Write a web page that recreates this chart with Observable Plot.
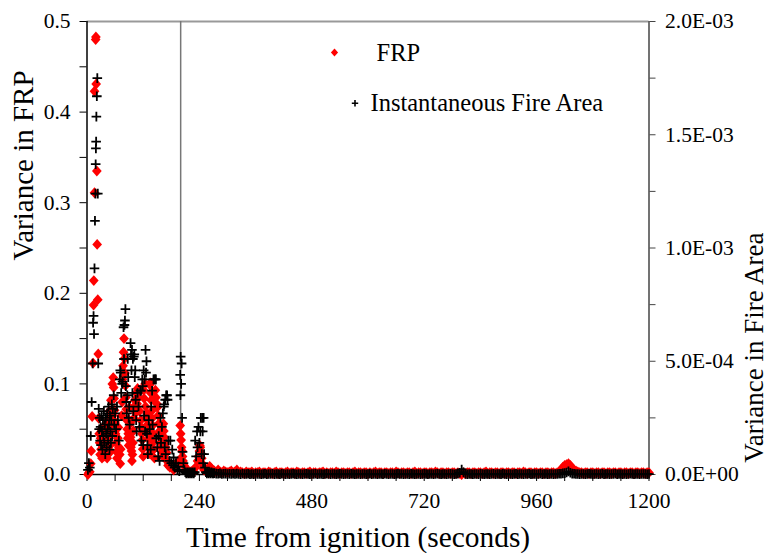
<!DOCTYPE html>
<html><head><meta charset="utf-8">
<script src="https://cdn.jsdelivr.net/npm/d3@7"></script>
<script src="https://cdn.jsdelivr.net/npm/@observablehq/plot@0.6"></script>
<style>body{margin:0;background:#fff}#chart{width:769px;height:553px;overflow:hidden}
#chart svg text{font-family:'Liberation Serif','Times New Roman',serif}</style>
</head><body><div id="chart"></div>
<script>
// FRP variance during the burst: [time (s), variance]
const frpBurst = [[2,0.000],[4,0.002],[6,0.003],[8,0.012],[9,0.026],[11,0.064],[13,0.123],[14,0.187],[14.5,0.214],[16,0.311],[16,0.423],[18.5,0.480],[19,0.483],[19.6,0.431],[21,0.335],[21.7,0.254],[23,0.193],[24,0.133],[25,0.062],[26,0.045],[27,0.035],[28,0.022],[29,0.040],[30,0.028],[31,0.050],[32,0.018],[33,0.033],[34,0.025],[35,0.045],[36,0.020],[37,0.038],[38,0.030],[39,0.055],[40,0.022],[41,0.042],[42,0.035],[43,0.018],[44,0.060],[45,0.028],[46,0.048],[47,0.040],[48,0.070],[49,0.032],[50,0.025],[51,0.082],[52,0.055],[53,0.045],[54,0.100],[55,0.065],[56,0.107],[57,0.096],[58,0.084],[59,0.071],[60,0.058],[61,0.045],[62,0.035],[63,0.025],[64,0.018],[66,0.040],[67,0.052],[68,0.030],[70,0.022],[71,0.012],[72,0.028],[74,0.065],[75,0.080],[76,0.105],[77,0.120],[78,0.135],[79,0.150],[80,0.128],[81,0.112],[82,0.098],[83,0.085],[84,0.072],[85,0.060],[86,0.050],[87,0.040],[88,0.045],[89,0.032],[90,0.060],[91,0.074],[92,0.056],[93,0.041],[94,0.030],[95,0.026],[96,0.015],[97,0.022],[98,0.035],[99,0.048],[100,0.062],[101,0.075],[102,0.082],[104,0.068],[105,0.090],[107,0.078],[108,0.095],[110,0.085],[112,0.070],[114,0.093],[115,0.060],[116,0.052],[117,0.045],[118,0.038],[119,0.028],[120,0.020],[121,0.093],[122,0.084],[124,0.100],[125,0.075],[126,0.062],[128,0.067],[129,0.055],[130,0.048],[131,0.040],[132,0.030],[133,0.023],[134,0.099],[135,0.101],[136,0.090],[137,0.082],[138,0.070],[139,0.062],[140,0.054],[141,0.045],[142,0.036],[143,0.028],[144,0.018],[146,0.093],[147,0.085],[149,0.078],[150,0.074],[152,0.065],[153,0.056],[155,0.048],[156,0.041],[158,0.035],[159,0.030],[160,0.025],[162,0.020],[163,0.056],[164,0.048],[165,0.041],[166,0.036],[168,0.030],[170,0.024],[171,0.015],[173,0.010],[175,0.012],[177,0.008],[180,0.010],[185,0.005],[190,0.012],[195,0.015],[199,0.054],[200,0.045],[201,0.038],[202,0.030],[203,0.026],[204,0.020],[205,0.015],[207,0.010],[210,0.008],[212,0.005],[215,0.003],[218,0.002],[221,0.003],[225,0.004],[228,0.003],[232,0.008],[236,0.015],[238,0.020],[240,0.026],[241,0.032],[242,0.030],[244,0.023],[245,0.018],[246,0.012],[248,0.007],[250,0.005],[253,0.004],[255,0.004],[258,0.006],[262,0.009],[265,0.007],[268,0.004]];

// Instantaneous fire area variance during the burst: [time (s), variance]
const areaBurst = [[2,0.00002],[4,0.00005],[6,0.00003],[8,0.00017],[10,0.00032],[12,0.00049],[13,0.00067],[14,0.00070],[15,0.00062],[16,0.00091],[17,0.00112],[18,0.00124],[18.5,0.00137],[19,0.00144],[19.5,0.00147],[20,0.00158],[21,0.00167],[22,0.00175],[23,0.00124],[24,0.00049],[25,0.00029],[26,0.00020],[27,0.00025],[28,0.00015],[29,0.00021],[30,0.00013],[31,0.00026],[32,0.00019],[33,0.00011],[34,0.00024],[35,0.00017],[36,0.00028],[37,0.00014],[38,0.00022],[39,0.00009],[40,0.00025],[41,0.00018],[42,0.00012],[43,0.00027],[44,0.00020],[45,0.00015],[46,0.00030],[47,0.00022],[48,0.00011],[49,0.00026],[50,0.00019],[51,0.00014],[52,0.00024],[53,0.00031],[54,0.00017],[55,0.00029],[57,0.00035],[58,0.00022],[60,0.00027],[62,0.00020],[64,0.00030],[66,0.00024],[68,0.00015],[70,0.00042],[71,0.00046],[72,0.00045],[73,0.00036],[75,0.00040],[76,0.00041],[78,0.00065],[79,0.00051],[80,0.00066],[81,0.00068],[82,0.00073],[83,0.00039],[84,0.00032],[85,0.00027],[86,0.00035],[87,0.00051],[88,0.00043],[89,0.00025],[90,0.00030],[91,0.00022],[93,0.00058],[94,0.00053],[95,0.00046],[96,0.00055],[97,0.00036],[98,0.00051],[99,0.00028],[100,0.00052],[101,0.00053],[102,0.00043],[103,0.00046],[104,0.00033],[105,0.00024],[106,0.00019],[108,0.00036],[110,0.00030],[112,0.00021],[114,0.00037],[115,0.00037],[116,0.00015],[118,0.00042],[119,0.00039],[120,0.00013],[121,0.00046],[122,0.00026],[123,0.00042],[124,0.00019],[125,0.00055],[126,0.00045],[127,0.00050],[128,0.00018],[129,0.00013],[130,0.00009],[132,0.00024],[134,0.00020],[136,0.00011],[137,0.00030],[139,0.00037],[140,0.00022],[142,0.00042],[144,0.00042],[146,0.00042],[147,0.00042],[148,0.00016],[150,0.00012],[152,0.00008],[153,0.00017],[155,0.00006],[157,0.00025],[158,0.00014],[160,0.00021],[162,0.00027],[164,0.00030],[165,0.00031],[166,0.00012],[167,0.00033],[168,0.00009],[169,0.00035],[171,0.00035],[172,0.00033],[174,0.00015],[176,0.00006],[178,0.00015],[180,0.00005],[182,0.00011],[184,0.00004],[185,0.000075],[187,0.00003],[190,0.00005],[193,0.00002],[195,0.000035],[197,0.000015],[199,0.00044],[199.5,0.00035],[200,0.00052],[201,0.00040],[202,0.00049],[203,0.00025],[204,0.00010],[206,0.00005],[208,0.00002],[210,0.00001],[212,0.000005],[214,0.00001],[216,0.000005],[218,0.00001],[220,0.000005],[222,0.00001],[224,0.000005],[226,0.00001],[228,0.000005],[230,0.00001],[231,0.00015],[233,0.00008],[235,0.00019],[236,0.00012],[238,0.00021],[240,0.00014],[242,0.00019],[243,0.00025],[245,0.00009],[246,0.00025],[247,0.00019],[248,0.00005],[249,0.00025],[250,0.00009],[252,0.00003],[254,0.00001],[256,0.000005],[258,0.00001],[260,0.000005],[262,0.00001],[264,0.000005],[266,0.00001],[268,0.000005],[270,0.000005]];

// Quiet tail, sampled every tailStep seconds from tailStart
const tailStart = 272;
const tailStep = 4;
// FRP variance in the tail, in units of 1e-3
const tailFrpMilli = [
  4,3,5,3,2,4,3,2,3,4, 2,3,5,2,3,2,1,3,2,2, 3,1,2,2,3,1,2,2,1,3, 2,1,2,3,1,2,2,1,2,3,
  1,2,2,1,3,2,1,2,2,1, 2,3,1,2,2,1,2,2,3,1, 2,1,2,2,1,3,2,1,2,2, 1,2,2,1,2,3,1,2,2,1,
  2,2,1,2,1,2,3,1,2,2, 1,2,2,1,2,2,1,3,2,1, 2,2,1,2,2,1,2,3,1,2, 2,1,2,2,1,2,2,1,3,2,
  1,2,2,1,2,2,1,2,2,1, 2,1,0,2,1,2,2,1,2,2, 1,2,2,1,2,3,1,2,2,1, 2,2,1,2,2,1,2,2,1,2,
  2,1,2,2,1,3,2,1,2,2, 1,2,2,1,2,2,1,2,2,1, 2,2,1,2,3,5,8,10,11,12, 10,7,5,4,3,2,2,1,2,2,
  1,2,2,1,2,2,1,2,2,1, 2,2,1,2,2,1,2,2,1,2, 2,1,2,2,1,2,2,1,2,2, 1,2,2];
// Fire area variance in the tail, in units of 1e-6
const tailAreaMicro = [
  6,4,3,5,2,3,4,2,3,2, 3,2,4,2,1,3,2,2,3,1, 2,1,3,2,2,1,2,3,1,2, 2,3,1,2,2,1,3,2,1,2,
  1,2,3,2,1,2,2,1,2,3, 2,1,2,2,3,1,2,2,1,2, 3,2,1,2,2,1,2,3,2,1, 2,2,1,3,2,1,2,2,1,2,
  2,1,2,3,1,2,2,1,2,2, 1,3,2,1,2,2,1,2,3,2, 2,1,2,2,1,3,2,1,2,2, 1,2,3,2,1,2,2,1,2,3,
  2,1,2,2,1,2,3,2,1,2, 3,8,22,10,2,1,2,2,1,2, 2,1,3,2,1,2,2,1,2,3, 1,2,2,1,3,2,1,2,2,1,
  2,3,1,2,2,1,2,2,3,1, 2,2,1,2,3,1,2,2,1,2, 2,1,2,2,3,3,5,6,9,14, 8,4,3,2,2,1,2,2,1,2,
  3,2,1,2,2,1,2,3,1,2, 2,1,2,2,3,1,2,2,1,2, 1,2,3,2,1,2,2,1,2,2, 2,1,2];

const xTicks = [0, 240, 480, 720, 960, 1200];
const xMinorTicks = [60, 120, 180, 300, 360, 420, 540, 600, 660, 780, 840, 900, 1020, 1080, 1140];
const frpTicks = [0, 0.1, 0.2, 0.3, 0.4, 0.5];
const frpMinorTicks = [0.05, 0.15, 0.25, 0.35, 0.45];
const areaTicks = [0, 5e-4, 1e-3, 1.5e-3, 2e-3];
const areaMinorTicks = [2.5e-4, 7.5e-4, 1.25e-3, 1.75e-3];
const markerTimes = [200];
const legendLabels = ["FRP", "Instantaneous Fire Area"];
const xTitle = "Time from ignition (seconds)";
const yLeftTitle = "Variance in FRP";
const yRightTitle = "Variance in Fire Area";

// right axis is a linear rescale of the left one
const k = frpTicks[frpTicks.length - 1] / areaTicks[areaTicks.length - 1];
const frp = frpBurst.map(([t, v]) => ({t, v}))
  .concat(tailFrpMilli.map((m, i) => ({t: tailStart + i * tailStep, v: m / 1000})));
const area = areaBurst.map(([t, a]) => ({t, v: a * k}))
  .concat(tailAreaMicro.map((m, i) => ({t: tailStart + i * tailStep, v: m * 1e-6 * k})));

function sci(a) {
  if (a === 0) return "0.0E+00";
  const e = Math.floor(Math.log10(a) + 1e-9);
  const m = a / Math.pow(10, e);
  return m.toFixed(1) + "E" + (e < 0 ? "-" : "+") + String(Math.abs(e)).padStart(2, "0");
}

const diamond = {draw(ctx, size) {
  const h = Math.sqrt(size / Math.PI), w = h * 0.9;
  ctx.moveTo(0, -h); ctx.lineTo(w, 0); ctx.lineTo(0, h); ctx.lineTo(-w, 0); ctx.closePath();
}};
const plus = {draw(ctx, size) {
  const r = Math.sqrt(size / Math.PI);
  ctx.moveTo(-r, 0); ctx.lineTo(r, 0); ctx.moveTo(0, -r); ctx.lineTo(0, r);
}};

const font = "'Liberation Serif', 'Times New Roman', serif";
const xMin = xTicks[0], xMax = xTicks[xTicks.length - 1];
const yMin = frpTicks[0], yMax = frpTicks[frpTicks.length - 1];

const chart = Plot.plot({
  width: 769, height: 553,
  marginLeft: 86.5, marginRight: 120.5, marginTop: 21, marginBottom: 79,
  style: {fontFamily: font, background: "#fff", color: "#000"},
  x: {domain: [xMin, xMax]},
  y: {domain: [yMin, yMax]},
  marks: [
    Plot.ruleY([yMax], {stroke: "#999", strokeWidth: 2}),
    Plot.ruleX([xMax], {stroke: "#444", strokeWidth: 1.5}),
    Plot.ruleX(markerTimes, {stroke: "#777", strokeWidth: 1.5}),
    Plot.axisX(xTicks, {tickSize: 7, tickPadding: 11, fontSize: 21.5, fontFamily: font, label: null, tickFormat: d => String(d), stroke: "#000"}),
    Plot.axisX(xMinorTicks, {tickSize: 7, label: null, tickFormat: () => "", stroke: "#000"}),
    Plot.axisY(frpTicks, {tickSize: 7, tickPadding: 9.5, fontSize: 21.5, fontFamily: font, label: null, tickFormat: d3.format(".1f"), stroke: "#000"}),
    Plot.axisY(frpMinorTicks, {tickSize: 7, label: null, tickFormat: () => "", stroke: "#000"}),
    Plot.axisY(areaTicks.map(a => a * k), {anchor: "right", tickSize: 6, tickPadding: 10, fontSize: 21.5, fontFamily: font, label: null, tickFormat: (d, i) => sci(areaTicks[i]), stroke: "#444"}),
    Plot.axisY(areaMinorTicks.map(a => a * k), {anchor: "right", tickSize: 6, label: null, tickFormat: () => "", stroke: "#444"}),
    Plot.ruleX([xMin], {stroke: "#000", strokeWidth: 1.5}),
    Plot.ruleY([yMin], {stroke: "#000", strokeWidth: 1.5}),
    Plot.dot(frp, {x: "t", y: "v", symbol: diamond, r: 5.4, fill: "#ff0000", stroke: "none"}),
    Plot.dot(area, {x: "t", y: "v", symbol: plus, r: 4.8, fill: "none", stroke: "#000", strokeWidth: 1.8}),
    // legend
    Plot.dot([legendLabels[0]], {frameAnchor: "top-left", dx: 247.5, dy: 31, symbol: diamond, r: 4, fill: "#ff0000", stroke: "none"}),
    Plot.text([legendLabels[0]], {text: d => d, frameAnchor: "top-left", dx: 289.5, dy: 32, textAnchor: "start", lineAnchor: "middle", fontSize: 24.5, fontFamily: font}),
    Plot.dot([legendLabels[1]], {frameAnchor: "top-left", dx: 268, dy: 81.7, symbol: plus, r: 3.2, fill: "none", stroke: "#000", strokeWidth: 1.6}),
    Plot.text([legendLabels[1]], {text: d => d, frameAnchor: "top-left", dx: 283.5, dy: 82, textAnchor: "start", lineAnchor: "middle", fontSize: 24.5, fontFamily: font}),
    // titles
    Plot.text([xTitle], {text: d => d, frameAnchor: "bottom", dx: -10, dy: 72, lineAnchor: "bottom", fontSize: 29.4, fontFamily: font}),
    Plot.text([yLeftTitle], {text: d => d, frameAnchor: "left", rotate: -90, dx: -63, dy: 12.5, lineAnchor: "middle", fontSize: 29, fontFamily: font}),
    Plot.text([yRightTitle], {text: d => d, frameAnchor: "right", rotate: -90, dx: 105.5, dy: -15.5, lineAnchor: "middle", fontSize: 27, fontFamily: font})
  ]
});
document.getElementById("chart").appendChild(chart);
</script>
</body></html>
